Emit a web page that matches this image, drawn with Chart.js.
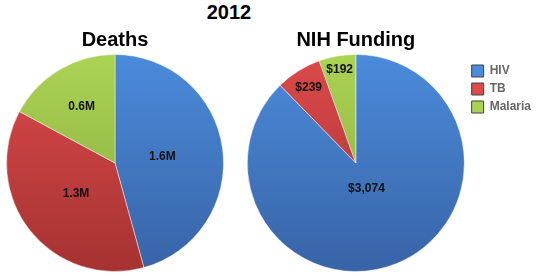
<!DOCTYPE html>
<html>
<head>
<meta charset="utf-8">
<script src="https://cdn.jsdelivr.net/npm/chart.js@4"></script>
<style>
  body { margin: 0; background: #fff; overflow: hidden; }
  #wrap { position: relative; width: 536px; height: 276px; overflow: hidden; font-family: Arial, "Liberation Sans", sans-serif; }
  #mainTitle { position: absolute; left: 179px; top: 0; width: 100px; text-align: center; font: bold 20px Arial, "Liberation Sans", sans-serif; line-height: 24px; color: #000; }
  #c1 { position: absolute; left: 0; top: 0; }
  #c2 { position: absolute; left: 240px; top: 0; }
</style>
</head>
<body>
<div id="wrap">
  <div id="mainTitle">2012</div>
  <canvas id="c1" width="230" height="276"></canvas>
  <canvas id="c2" width="301" height="276"></canvas>
</div>
<script>
const diseases = ['HIV', 'TB', 'Malaria'];
const deaths = [1.6, 1.3, 0.6];          // millions
const nihFunding = [3074, 239, 192];     // $ millions

const deathLabels = ['1.6M', '1.3M', '0.6M'];
const fundingLabels = ['$3,074', '$239', '$192'];

// top / bottom shade per slice
const shades = [
  ['#4b8bdb', '#3863a6'],
  ['#dc4a4a', '#a53232'],
  ['#abd353', '#86a83f']
];

function sliceFill(context) {
  const chart = context.chart;
  const area = chart.chartArea;
  if (!area) return shades[context.dataIndex][0];
  const g = chart.ctx.createLinearGradient(0, area.top, 0, area.bottom);
  g.addColorStop(0, shades[context.dataIndex][0]);
  g.addColorStop(1, shades[context.dataIndex][1]);
  return g;
}

// draws the value text inside each slice
const sliceText = {
  id: 'sliceText',
  afterDatasetsDraw(chart, args, opts) {
    const ctx = chart.ctx;
    const meta = chart.getDatasetMeta(0);
    ctx.save();
    ctx.font = 'bold 12px Arial, "Liberation Sans", sans-serif';
    ctx.fillStyle = '#111';
    ctx.textAlign = 'center';
    ctx.textBaseline = 'middle';
    meta.data.forEach(function(arc, i) {
      const p = arc.getProps(['x', 'y', 'startAngle', 'endAngle', 'outerRadius']);
      const mid = (p.startAngle + p.endAngle) / 2;
      const r = p.outerRadius * opts.dist[i];
      ctx.fillText(opts.labels[i], p.x + Math.cos(mid) * r, p.y + Math.sin(mid) * r);
    });
    ctx.restore();
  }
};

function makePie(id, values, labels, title, dist, showLegend, pad) {
  return new Chart(document.getElementById(id), {
    type: 'pie',
    data: {
      labels: diseases,
      datasets: [{
        data: values,
        backgroundColor: sliceFill,
        borderColor: 'rgba(255,255,255,0.45)',
        borderWidth: 1
      }]
    },
    options: {
      responsive: false,
      animation: false,
      events: [],
      layout: { padding: pad },
      plugins: {
        title: {
          display: true,
          text: title,
          fullSize: false,
          color: '#000',
          font: { family: 'Arial, "Liberation Sans", sans-serif', size: 20, weight: 'bold', lineHeight: 1.2 },
          padding: { top: 0, bottom: 2 }
        },
        legend: {
          display: showLegend,
          position: 'right',
          align: 'start',
          fullSize: false,
          title: { display: true, text: '', padding: 0, font: { size: 12, lineHeight: '5px' } },
          labels: {
            boxWidth: 12,
            boxHeight: 12,
            padding: 6,
            color: '#000',
            font: { family: 'Arial, "Liberation Sans", sans-serif', size: 12, weight: 'bold' },
            generateLabels(chart) {
              return diseases.map(function(name, i) {
                return {
                  text: name,
                  fillStyle: shades[i][0],
                  strokeStyle: '#444',
                  lineWidth: 1,
                  index: i
                };
              });
            }
          }
        },
        tooltip: { enabled: false },
        sliceText: { labels: labels, dist: dist }
      }
    },
    plugins: [sliceText]
  });
}

makePie('c1', deaths, deathLabels, 'Deaths', [0.44, 0.46, 0.6], false, { top: 28, bottom: 4, left: 6, right: 6 });
makePie('c2', nihFunding, fundingLabels, 'NIH Funding', [0.26, 0.82, 0.87], true, { top: 28, bottom: 4, left: 6, right: 0 });
</script>
</body>
</html>
